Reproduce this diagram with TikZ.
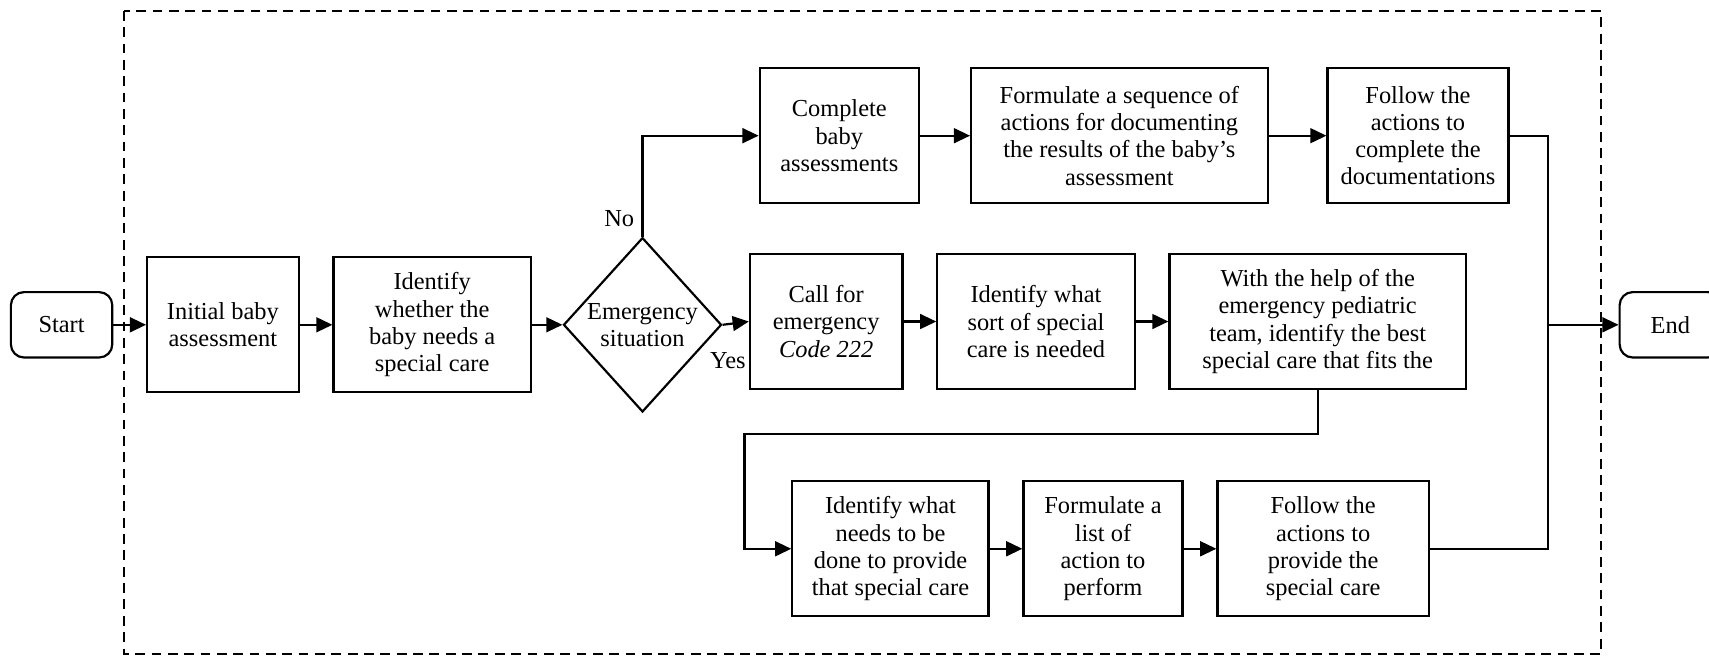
\documentclass[tikz,border=0pt]{standalone}
\usepackage{fontspec}
\setmainfont{Liberation Serif}
\usepackage{tikz}
\usetikzlibrary{shapes.geometric,positioning,arrows.meta}

\begin{document}
\begin{tikzpicture}[%
    x=0.5pt, y=-0.5pt,                       % Page units, y grows downwards
    >={Triangle[length=7.4pt,width=6.8pt]},  % Solid arrow heads
    node distance=15pt,                      % Usual gap between boxes
    line width=1pt,
    font=\fontsize{11.2}{12.5}\selectfont,
    ]
\tikzset{
  base/.style={draw, align=center, inner sep=0pt},
  proc/.style={base, rectangle, minimum height=62pt},
  test/.style={base, diamond, aspect=0.9, minimum width=72.5pt, minimum height=80pt},
  term/.style={base, rectangle, rounded corners=6pt, minimum width=46.5pt, minimum height=30pt},
  frame/.style={dash pattern=on 4.5pt off 3pt},
}

\useasboundingbox (0,0) rectangle (1568,604);
\draw [frame] (114,10) rectangle (1469,600);

\node [term] (p0) at (56.5,298) {Start};
\node [proc,minimum width=69.5pt,right=of p0] (p1) {Initial baby\\assessment};
\node [proc,minimum width=90.5pt,right=of p1] (p2) {Identify\\whether the\\baby needs a\\special care};
\node [test] (p3) at (589.5,298) {Emergency\\situation};

% no emergency
\node [proc,minimum width=73pt] (p4) at (770,124.5) {Complete\\baby\\assessments};
\node [proc,minimum width=136pt,right=23pt of p4] (p5) {Formulate a sequence of\\actions for documenting\\the results of the baby’s\\assessment};
\node [proc,minimum width=83pt,right=26.5pt of p5] (p6) {Follow the\\actions to\\complete the\\documentations};

% emergency
\node [proc,minimum width=70pt] (p7) at (758,295) {Call for\\emergency\\\textit{Code 222}};
\node [proc,minimum width=90.5pt,right=of p7] (p8) {Identify what\\sort of special\\care is needed};
\node [proc,minimum width=136pt,right=of p8] (p9) {With the help of the\\emergency pediatric\\team, identify the best\\special care that fits the};

\node [proc,minimum width=90pt] (p10) at (817,503.5) {Identify what\\needs to be\\done to provide\\that special care};
\node [proc,minimum width=73pt,right=of p10] (p11) {Formulate a\\list of\\action to\\perform};
\node [proc,minimum width=97pt,right=of p11] (p12) {Follow the\\actions to\\provide the\\special care};

\node [term] (p13) at (1532.5,298) {End};

\coordinate (j) at (1420,298);
\coordinate (c1) at (683,398);

% connect
\draw [->] (p0.east) -- (p1.west);
\draw [->] (p1.east) -- (p2.west);
\draw [->] (p2.east) -- (p3.west);
\draw [->] (p3.north) |- node [pos=0.09,left] {No} (p4.west);
\draw [->] (p3.east) -- node [pos=0.2,below=9pt] {Yes} (p7.west);

\draw [->] (p4.east) -- (p5.west);
\draw [->] (p5.east) -- (p6.west);
\draw (p6.east) -| (j);

\draw [->] (p7.east) -- (p8.west);
\draw [->] (p8.east) -- (p9.west);
\draw [->] (p9.south) |- (c1) |- (p10.west);

\draw [->] (p10.east) -- (p11.west);
\draw [->] (p11.east) -- (p12.west);
\draw (p12.east) -| (j);
\draw [->] (j) -- (p13.west);

\end{tikzpicture}
\end{document}
